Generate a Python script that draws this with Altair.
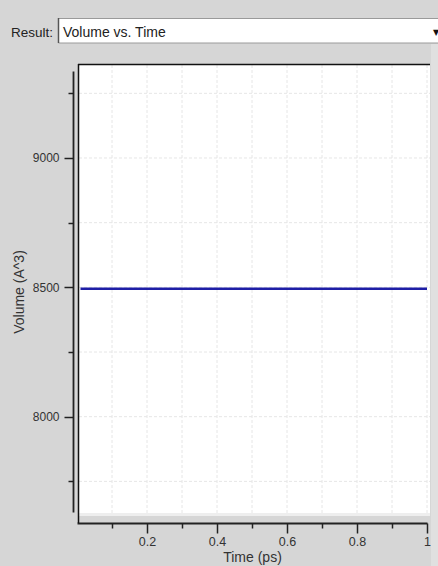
import altair as alt
import pandas as pd

# Simulation output: box volume over time
time_ps = [0.01, 0.1, 0.2, 0.3, 0.4, 0.5, 0.6, 0.7, 0.8, 0.9, 1.0]
volume_a3 = [8495, 8495, 8495, 8495, 8495, 8495, 8495, 8495, 8495, 8495, 8495]

# Axis tick values (major + minor)
x_ticks = [0.1, 0.2, 0.3, 0.4, 0.5, 0.6, 0.7, 0.8, 0.9, 1.0]
y_ticks = [7750, 8000, 8250, 8500, 8750, 9000, 9250]

x_domain = [0.0, 1.0]
y_domain = [7631.6, 9336.3]

FONT = "Liberation Sans"
INK = "#222222"
BG = "#d6d6d6"

W, H = 350, 441

series = pd.DataFrame({"t": time_ps, "v": volume_a3})
xgrid = pd.DataFrame({"t": x_ticks})
ygrid = pd.DataFrame({"v": y_ticks})
one = pd.DataFrame({"k": [0]})

x_axis = alt.Axis(
    values=x_ticks, format="~g",
    labelExpr="round(datum.value * 10) % 2 === 0 ? datum.label : ''",
    tickSize={"condition": {"test": "round(datum.value * 10) % 2 === 0", "value": 10}, "value": 5},
    tickColor=INK, tickWidth=1.5, domainColor=INK, domainWidth=1.8,
    offset=11, grid=False, labelFont=FONT, labelFontSize=12.5, labelColor="#333333",
    labelPadding=2, labelFlush=False, title="Time (ps)", titleFont=FONT, titleFontSize=14,
    titleFontWeight="normal", titleColor="#333333", titlePadding=3,
)
y_axis = alt.Axis(
    values=y_ticks, format="d",
    labelExpr="datum.value % 500 === 0 ? datum.label : ''",
    tickSize={"condition": {"test": "datum.value % 500 === 0", "value": 9}, "value": 5},
    tickColor=INK, tickWidth=1.5, domainColor=INK, domainWidth=1.8,
    offset=4, grid=False, labelFont=FONT, labelFontSize=12, labelColor="#333333",
    labelPadding=5, title="Volume (A^3)", titleFont=FONT, titleFontSize=14,
    titleFontWeight="normal", titleColor="#333333", titlePadding=6,
)

X = alt.X("t:Q", scale=alt.Scale(domain=x_domain, nice=False, zero=False), axis=x_axis)
Y = alt.Y("v:Q", scale=alt.Scale(domain=y_domain, nice=False, zero=False), axis=y_axis)

base = alt.Chart(one)

# White plotting panel with a sunken frame
panel = base.mark_rect(color="white").encode(
    x=alt.value(2), x2=alt.value(353), y=alt.value(-7), y2=alt.value(443)
)
panel_bottom = base.mark_rect(color="#eeeeee").encode(
    x=alt.value(2), x2=alt.value(353), y=alt.value(442), y2=alt.value(445)
)
right_strip = base.mark_rect(color="#e0e0e0").encode(
    x=alt.value(354), x2=alt.value(361), y=alt.value(-27), y2=alt.value(495)
)

vgrid = alt.Chart(xgrid).mark_rule(color="#e6e6e6", strokeWidth=1, strokeDash=[3, 2]).encode(
    x=X, y=alt.value(-6), y2=alt.value(442)
)
hgrid = alt.Chart(ygrid).mark_rule(color="#e6e6e6", strokeWidth=1, strokeDash=[3, 2]).encode(
    y=Y, x=alt.value(2), x2=alt.value(353)
)

line = alt.Chart(series).mark_line(color="#1e1ea6", strokeWidth=2.5).encode(x=X, y=Y)

frame_top = base.mark_rule(color="#111111", strokeWidth=1.5).encode(
    x=alt.value(1), x2=alt.value(353), y=alt.value(-6.5)
)
frame_left = base.mark_rule(color="#111111", strokeWidth=1.5).encode(
    x=alt.value(1.5), y=alt.value(-7), y2=alt.value(452)
)

# Result selector above the plot
combo = base.mark_rect(color="white", stroke="#9a9a9a", strokeWidth=1).encode(
    x=alt.value(-18.5), x2=alt.value(370), y=alt.value(-52.5), y2=alt.value(-28)
)
combo_left = base.mark_rule(color="#555555", strokeWidth=1.5).encode(
    x=alt.value(-18.5), y=alt.value(-53), y2=alt.value(-28)
)
result_label = base.mark_text(
    text="Result:", font=FONT, fontSize=13.5, color="#222222", align="left", baseline="middle"
).encode(x=alt.value(-66), y=alt.value(-38.5))
result_value = base.mark_text(
    text="Volume vs. Time", font=FONT, fontSize=14, color="#222222", align="left", baseline="middle"
).encode(x=alt.value(-14), y=alt.value(-38.5))
arrow = base.mark_text(
    text="▼", font="DejaVu Sans", fontSize=8, color="#111111", align="left", baseline="middle"
).encode(x=alt.value(356), y=alt.value(-38))

chart = alt.layer(
    panel, panel_bottom, right_strip, vgrid, hgrid, line, frame_top, frame_left,
    combo, combo_left, result_label, result_value, arrow,
).properties(
    width=W, height=H,
    autosize=alt.AutoSizeParams(type="none"),
    padding={"left": 77, "top": 71, "right": 11, "bottom": 54},
    background=BG,
).configure_view(stroke=None, fill=None)

chart.save("out.html", embed_options={"renderer": "svg", "actions": False})
